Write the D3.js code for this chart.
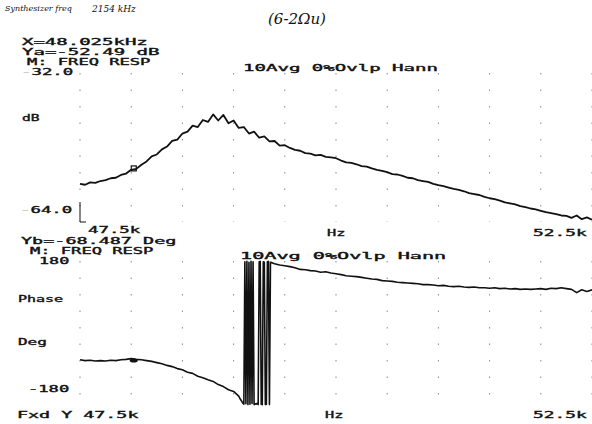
<!DOCTYPE html>
<html>
<head>
<meta charset="utf-8">
<script src="https://cdn.jsdelivr.net/npm/d3@7"></script>
<style>
  body { margin: 0; background: #fff; }
  svg { display: block; }
</style>
</head>
<body>
<div id="chart"></div>
<script>
// frequency sweep 47.5k .. 52.5k Hz (values in kHz)
const magFreq = d3.range(0, 101).map(i => 47.5 + i * 0.05);
const magDb = [
  -55.8, -56.0, -55.5, -55.6, -55.2, -55.0, -54.6, -54.5, -53.9, -53.6,
  -52.8, -52.6, -51.7, -51.0, -49.9, -49.5, -48.4, -47.8, -46.6, -46.3,
  -45.0, -44.6, -43.3, -43.6, -42.1, -42.5, -40.9, -42.2, -41.0, -42.8,
  -42.2, -43.8, -43.6, -45.0, -44.6, -45.9, -45.6, -46.7, -46.6, -47.6,
  -47.5, -48.1, -48.5, -48.7, -49.2, -49.3, -49.7, -49.6, -50.0, -50.1,
  -50.3, -50.8, -51.2, -51.3, -51.6, -52.0, -52.1, -52.5, -52.8, -53.0,
  -53.3, -53.7, -53.8, -54.1, -54.5, -54.6, -55.0, -55.2, -55.4, -55.8,
  -56.1, -56.3, -56.6, -56.9, -57.1, -57.4, -57.8, -58.0, -58.2, -58.6,
  -58.9, -59.1, -59.4, -59.8, -60.0, -60.2, -60.6, -60.8, -61.1, -61.3,
  -61.6, -61.9, -62.1, -62.3, -62.6, -62.7, -63.1, -62.6, -63.4, -63.0,
  -63.5
];

// phase: coarse 47.50..49.05, fine 49.06..49.38 (wrap region), coarse 49.40..52.50
const phaseFreq = [].concat(
  d3.range(0, 32).map(i => 47.5 + i * 0.05),
  d3.range(0, 33).map(i => 49.06 + i * 0.01),
  d3.range(0, 63).map(i => 49.4 + i * 0.05)
);
const phaseDeg = [
  -67, -69, -68, -70, -69, -70, -68, -69, -67, -66,
  -64, -66, -67, -69, -71, -74, -77, -81, -84, -89,
  -92, -98, -101, -108, -112, -117, -121, -129, -134, -142,
  -146, -158,
  -163, -167, -171, -175, -178, 178, -177, 179, -179, 177,
  -178, 179, -176, 178, -179, -177, -178, -176, -179, 178,
  179, -178, -179, 178, 177, -179, -178, 178, 179, -179,
  177, 176, 175,
  173, 170, 168, 166, 163, 159, 158, 156, 155, 152,
  153, 150, 148, 146, 143, 142, 141, 139, 137, 135,
  134, 131, 130, 129, 127, 126, 125, 124, 123, 121,
  121, 120, 118, 119, 117, 116, 117, 115, 114, 115,
  113, 113, 112, 113, 111, 112, 110, 111, 109, 110,
  109, 110, 111, 109, 112, 111, 113, 111, 109, 101,
  108, 104, 108
];

const markerFreq = 48.025;
const markerDb = -52.49;
const markerDeg = -68.487;

const xDomain = [47.5, 52.5];
const magDomain = [-64, -32];
const phaseDomain = [-180, 180];
const xDivisions = d3.range(0, 11).map(i => 47.5 + i * 0.5);

const width = 592, height = 424;
const svg = d3.select('#chart').append('svg')
  .attr('width', width)
  .attr('height', height);

const x = d3.scaleLinear().domain(xDomain).range([80, 592]);
const yMag = d3.scaleLinear().domain(magDomain).range([222, 73]);
const yPh = d3.scaleLinear().domain(phaseDomain).range([405, 261]);

const ink = '#111';

// plotter style text, stretched to a fixed character pitch
function txt(px, py, s, pitch, n) {
  const t = svg.append('text')
    .attr('x', px)
    .attr('y', py)
    .attr('font-family', 'DejaVu Sans Mono')
    .attr('font-size', 8.7)
    .attr('fill', ink)
    .attr('stroke', ink)
    .attr('stroke-width', 0.35)
    .attr('textLength', (n || s.length) * pitch - pitch * 0.25)
    .attr('lengthAdjust', 'spacingAndGlyphs')
    .text(s);
  return t;
}

// faint leading minus, as on the plot
function txtFaint(px, py, s, pitch) {
  const t = txt(px, py, '', pitch, s.length + 1);
  t.append('tspan').attr('fill', '#c8c8c8').attr('stroke', '#c8c8c8').text('-');
  t.append('tspan').text(s);
  return t;
}

// handwritten notes
svg.append('text')
  .attr('x', 5).attr('y', 11)
  .attr('font-family', 'DejaVu Serif').attr('font-style', 'italic')
  .attr('font-size', 8).attr('fill', ink)
  .text('Synthesizer freq');
svg.append('text')
  .attr('x', 92).attr('y', 12)
  .attr('font-family', 'DejaVu Serif').attr('font-style', 'italic')
  .attr('font-size', 9).attr('fill', ink)
  .text('2154 kHz');
svg.append('text')
  .attr('x', 268).attr('y', 24)
  .attr('font-family', 'DejaVu Serif').attr('font-style', 'italic')
  .attr('font-size', 15).attr('fill', ink)
  .text('(6-2Ωu)');

// gridlines (dotted, like the plotter graticule)
function grid(yScale, dom) {
  svg.append('g')
    .selectAll('line')
    .data(xDivisions)
    .join('line')
    .attr('x1', d => x(d)).attr('x2', d => x(d))
    .attr('y1', yScale(dom[1])).attr('y2', yScale(dom[0]))
    .attr('stroke', '#888')
    .attr('stroke-width', 1)
    .attr('stroke-dasharray', '1.5,15');
}
grid(yMag, magDomain);
grid(yPh, phaseDomain);

// bottom-left corner bracket of magnitude panel
svg.append('path')
  .attr('d', `M${x(47.5)},${yMag(-64) - 20}V${yMag(-64)}H${x(47.5) + 6}`)
  .attr('fill', 'none').attr('stroke', ink).attr('stroke-width', 1);

// upper panel texts
txt(22, 45, 'X=48.025kHz', 11.7);
txt(22, 55, 'Ya=-52.49 dB', 11.7);
txt(27, 65, 'M: FREQ RESP', 10.5);
txtFaint(21, 75, '32.0', 11);
txt(243, 71, '10Avg  0%Ovlp  Hann', 10.4);
txt(22, 121, 'dB', 10);
txtFaint(20, 213, '64.0', 11);
txt(88, 233, '47.5k', 11);
txt(327, 236, 'Hz', 10.5);
txt(533, 236, '52.5k', 11.3);

// lower panel texts
txt(21, 244, 'Yb=-68.487 Deg', 11.3);
txt(30, 254, 'M: FREQ RESP', 10.5);
txt(39, 264, '180', 11);
txt(240, 259, '10Avg  0%Ovlp  Hann', 11);
txt(18, 302, 'Phase', 9.5);
txt(18, 345, 'Deg', 10.5);
txt(28, 392, '-180', 11);
txt(17, 418, 'Fxd Y 47.5k', 11.3);
txt(325, 418, 'Hz', 10.5);
txt(533, 418, '52.5k', 11.3);

// magnitude trace
const magLine = d3.line()
  .x((d, i) => x(magFreq[i]))
  .y(d => yMag(d));
svg.append('path')
  .datum(magDb)
  .attr('fill', 'none')
  .attr('stroke', ink)
  .attr('stroke-width', 1.8)
  .attr('stroke-linejoin', 'round')
  .attr('d', magLine);

// phase trace
const phLine = d3.line()
  .x((d, i) => x(phaseFreq[i]))
  .y(d => yPh(d));
svg.append('path')
  .datum(phaseDeg)
  .attr('fill', 'none')
  .attr('stroke', ink)
  .attr('stroke-width', 1.6)
  .attr('stroke-linejoin', 'round')
  .attr('d', phLine);

// markers
svg.append('rect')
  .attr('x', x(markerFreq) - 2.5).attr('y', yMag(markerDb) - 2.5)
  .attr('width', 5).attr('height', 5)
  .attr('fill', 'none').attr('stroke', ink).attr('stroke-width', 1.2);
svg.append('ellipse')
  .attr('cx', x(markerFreq)).attr('cy', yPh(markerDeg))
  .attr('rx', 4).attr('ry', 2)
  .attr('fill', ink);
</script>
</body>
</html>
